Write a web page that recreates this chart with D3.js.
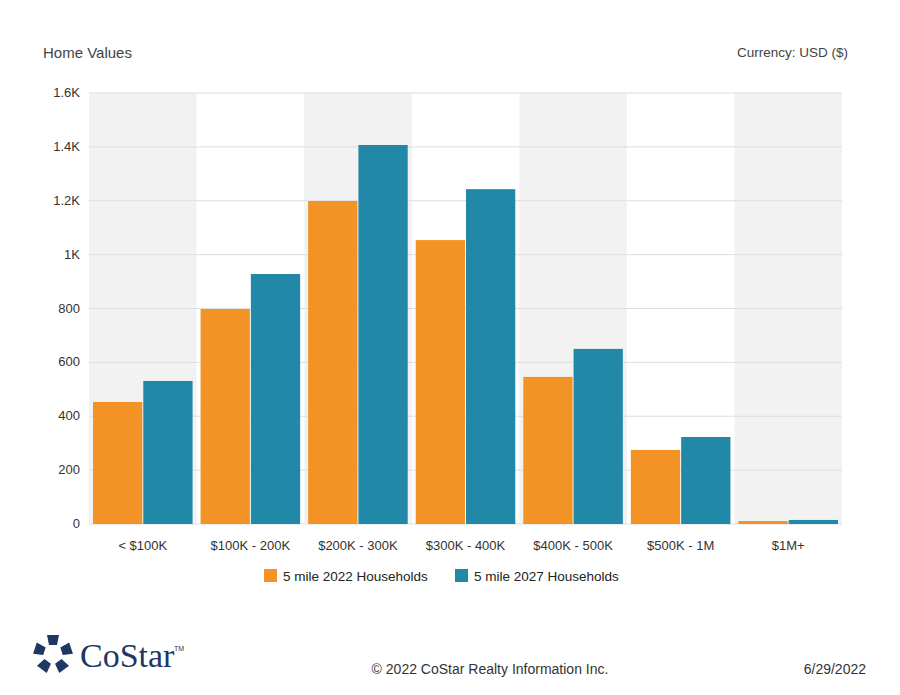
<!DOCTYPE html>
<html><head><meta charset="utf-8">
<script src="https://cdn.jsdelivr.net/npm/d3@7"></script>
<style>body{margin:0;background:#fff;font-family:"Liberation Sans",Arial,sans-serif}</style>
</head><body><svg id="c" width="900" height="695"></svg>
<script>
const categories = ["< $100K","$100K - 200K","$200K - 300K","$300K - 400K","$400K - 500K","$500K - 1M","$1M+"];
const series2022 = [453, 798, 1199, 1054, 546, 275, 11];
const series2027 = [531, 928, 1407, 1243, 650, 323, 15];
const seriesNames = ["5 mile 2022 Households","5 mile 2027 Households"];
const colors = ["#f39325","#2288a8"];
const ticks = [0,200,400,600,800,1000,1200,1400,1600];
const tickLabel = d => d>=1000 ? (d/1000)+"K" : d;

const svg = d3.select("#c");
const m = {l:89, r:842, t:93, b:524};
const x = d3.scaleBand().domain(categories).range([m.l,m.r]);
const y = d3.scaleLinear().domain([0,1600]).range([m.b,m.t]);
const inner = d3.scaleBand().domain([0,1]).range([4, x.bandwidth()-4]).paddingInner(0.02);

svg.append("g").selectAll("rect").data(categories.filter((d,i)=>i%2==0)).join("rect")
  .attr("x",d=>x(d)).attr("y",m.t).attr("width",x.bandwidth()).attr("height",m.b-m.t).attr("fill","#f2f2f2");

svg.append("g").selectAll("line").data(ticks).join("line")
  .attr("x1",m.l).attr("x2",m.r).attr("y1",d=>y(d)).attr("y2",d=>y(d))
  .attr("stroke","#dedede").attr("stroke-width",1);

svg.append("g").attr("font-size",13).attr("fill","#333").attr("text-anchor","end")
  .selectAll("text").data(ticks).join("text")
  .attr("x",80).attr("y",d=>y(d)+4).text(tickLabel);

[series2022, series2027].forEach((s,k)=>{
  svg.append("g").selectAll("rect").data(s).join("rect")
    .attr("x",(d,i)=>x(categories[i])+inner(k)).attr("width",inner.bandwidth())
    .attr("y",d=>y(d)).attr("height",d=>y(0)-y(d)).attr("fill",colors[k]);
});

svg.append("g").attr("font-size",13).attr("fill","#333").attr("text-anchor","middle")
  .selectAll("text").data(categories).join("text")
  .attr("x",d=>x(d)+x.bandwidth()/2).attr("y",550).text(d=>d);

const lg = svg.append("g").attr("font-size",13.5).attr("fill","#222");
[[264,seriesNames[0]],[455,seriesNames[1]]].forEach(([lx,t],k)=>{
  lg.append("rect").attr("x",lx).attr("y",569).attr("width",13).attr("height",13).attr("fill",colors[k]);
  lg.append("text").attr("x",lx+19).attr("y",581).text(t);
});

svg.append("text").attr("x",43).attr("y",58).attr("font-size",15).attr("fill","#444").text("Home Values");
svg.append("text").attr("x",848).attr("y",57).attr("font-size",13.5).attr("fill","#444").attr("text-anchor","end").text("Currency: USD ($)");
svg.append("text").attr("x",490).attr("y",674).attr("font-size",14).attr("fill","#333").attr("text-anchor","middle").text("© 2022 CoStar Realty Information Inc.");
svg.append("text").attr("x",866).attr("y",674).attr("font-size",14).attr("fill","#333").attr("text-anchor","end").text("6/29/2022");

// logo
const logo = svg.append("g").attr("transform","translate(53,654)").attr("fill","#1f3763");
for(let i=0;i<5;i++){
  logo.append("path").attr("d","M-6,-19 L6,-19 L4,-9 L-4,-9 Z").attr("transform",`rotate(${i*72})`);
}
svg.append("text").attr("x",80).attr("y",667).attr("font-family","Liberation Serif,serif").attr("font-size",34).attr("fill","#1f3763").text("CoStar");
svg.append("text").attr("x",174).attr("y",651).attr("font-size",7).attr("fill","#1f3763").text("TM");
</script></body></html>
